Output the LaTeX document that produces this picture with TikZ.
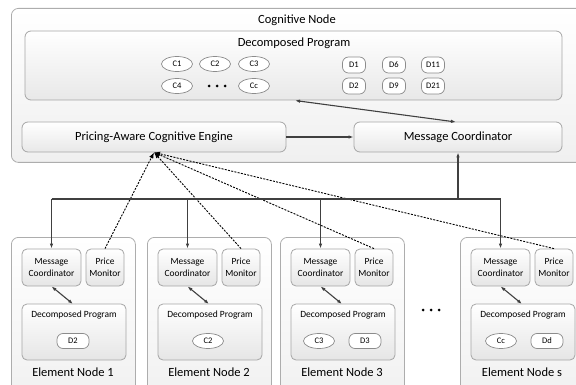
\documentclass[tikz,border=0pt]{standalone}
\usepackage{fontspec}
\setmainfont{Carlito}
\usetikzlibrary{shapes.geometric,arrows.meta,calc}
\begin{document}
\begin{tikzpicture}[x=1pt,y=-1pt,
  outerbox/.style={draw=black!32, line width=0.8pt, rounded corners=7pt, top color=white, bottom color=black!6, inner sep=0pt},
  box/.style={draw=black!35, line width=0.8pt, rounded corners=6pt, top color=white, bottom color=black!9, inner sep=0pt},
  smallbox/.style={draw=black!35, line width=0.8pt, rounded corners=5pt, top color=white, bottom color=black!10, inner sep=0pt, align=center, font=\fontsize{9.4}{11.5}\selectfont},
  ell/.style={ellipse, draw=black!45, line width=0.7pt, fill=white, minimum width=31pt, minimum height=15pt, inner sep=0pt, font=\fontsize{8.5}{10}\selectfont},
  rbox/.style={draw=black!45, line width=0.7pt, rounded corners=6pt, fill=white, minimum width=23pt, minimum height=16pt, inner sep=0pt, font=\fontsize{8.5}{10}\selectfont},
  rboxw/.style={rbox, minimum width=32pt, minimum height=15pt},
  big/.style={font=\fontsize{12.5}{14}\selectfont},
  mid/.style={font=\fontsize{9.5}{11}\selectfont},
  arr/.style={draw=black!75, line width=1.1pt, -{Latex[length=5pt,width=3.5pt]}},
  darr/.style={draw=black!75, line width=1.1pt, {Latex[length=5pt,width=3.5pt]}-{Latex[length=5pt,width=3.5pt]}},
  bus/.style={draw=black!75, line width=1.3pt},
  dotarr/.style={draw=black, line width=0.9pt, dash pattern=on 2pt off 1.3pt, -{Latex[length=6pt,width=4.5pt]}}
]
\useasboundingbox (0,0) rectangle (576,385);
\clip (0,0) rectangle (576,385);

% ---------- Cognitive node ----------
\node[outerbox, minimum width=620pt, minimum height=154pt, anchor=north west] (cog) at (11,8) {};
\node[big] (cogt) at (297,20) {Cognitive Node};

\node[box, minimum width=537pt, minimum height=69pt] (dp) at (293.5,65.5) {};
\node[big] (dpt) at (294,43) {Decomposed Program};

\node[ell] (c1) at (177,64) {C1};
\node[ell] (c2) at (215,64) {C2};
\node[ell] (c3) at (254,64) {C3};
\node[ell] (c4) at (177,86) {C4};
\node[ell] (cc) at (254,86) {Cc};
\foreach \x in {209,217,225} \fill (\x,86) circle (1.5pt);

\node[rbox] (d1) at (354,65) {D1};
\node[rbox] (d6) at (394,65) {D6};
\node[rbox] (d11) at (433,65) {D11};
\node[rbox] (d2) at (354,86) {D2};
\node[rbox] (d9) at (394,86) {D9};
\node[rbox] (d21) at (433,86) {D21};

\node[box, big, minimum width=264pt, minimum height=30pt] (pace) at (154,137) {Pricing-Aware Cognitive Engine};
\node[box, big, minimum width=208pt, minimum height=30pt] (mcc) at (458,137) {Message Coordinator};

\coordinate (dpa) at (295,100.5);
\coordinate (mca) at (456,122);
\draw[darr] (dpa) -- (mca);
\draw[arr] (pace.east) -- (mcc.west);

% ---------- Element nodes ----------
\foreach \L/\k in {11/1,147/2,280/3,460/s}{
  \node[outerbox, minimum width=124pt, minimum height=170pt, anchor=north west] (en\k) at (\L,237) {};
  \node[big] (ent\k) at (\L+62,372) {Element Node \k};
  \node[smallbox, minimum width=59pt, minimum height=37pt] (mc\k) at (\L+40.5,267.5) {Message\\Coordinator};
  \node[smallbox, minimum width=38pt, minimum height=37pt] (pm\k) at (\L+94,267.5) {Price\\Monitor};
  \node[smallbox, minimum width=104pt, minimum height=56pt] (sdp\k) at (\L+63,332) {};
  \node[mid] (sdpt\k) at (\L+63,315) {Decomposed Program};
  \draw[darr] (mc\k.south) -- (\L+62,304);
  \coordinate (j\k) at (\L+40.5,199);
  \draw[arr] (j\k) -- (mc\k.north);
  \draw[dotarr] (pm\k.north) -- (pace.south);
}

\node[rboxw] (e1d2) at (73,341) {D2};
\node[ell] (e2c2) at (208,341) {C2};
\node[ell] (e3c3) at (319,341) {C3};
\node[rboxw] (e3d3) at (365,341) {D3};
\node[ell] (escc) at (501,341) {Cc};
\node[rboxw] (esdd) at (547,341) {Dd};

\foreach \x in {423,431,439} \fill (\x,310) circle (1.5pt);

% ---------- bus ----------
\coordinate (jc) at (458,199);
\draw[bus] (j1) -- (js);
\draw[arr] (jc) -- (mcc.south);
\end{tikzpicture}
\end{document}
